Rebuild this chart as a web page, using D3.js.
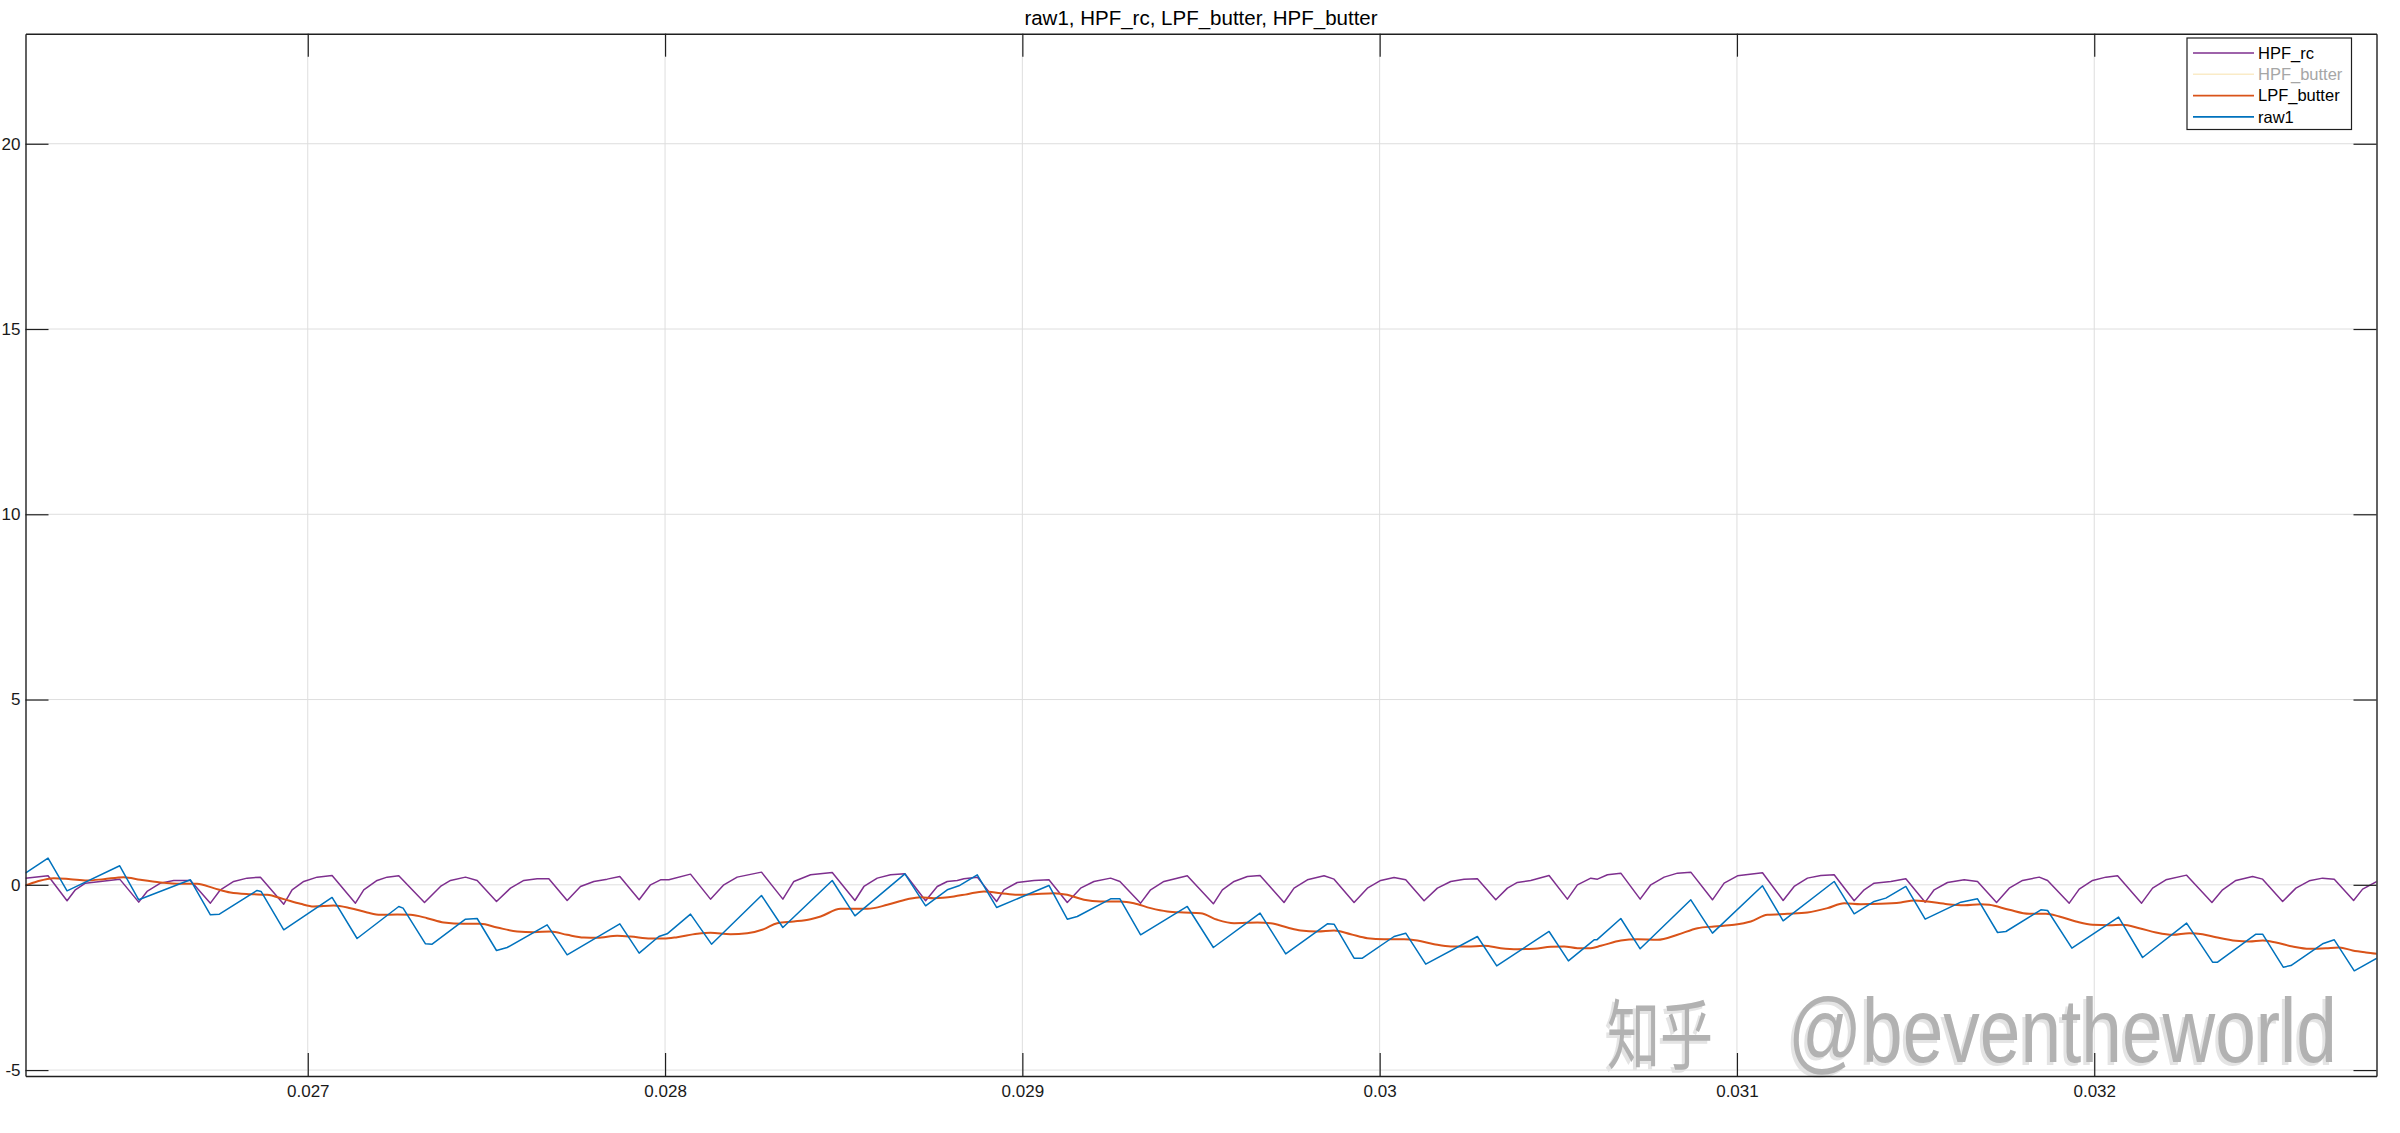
<!DOCTYPE html>
<html>
<head>
<meta charset="utf-8">
<script src="https://cdn.jsdelivr.net/npm/d3@7"></script>
<style>
  html, body { margin: 0; padding: 0; background: #ffffff; }
  svg { display: block; }
</style>
</head>
<body>
<script>
// ---------------- data ----------------
const chartTitle = "raw1, HPF_rc, LPF_butter, HPF_butter";
const xDomain = [0.02621, 0.03279];
const yDomain = [-5.16, 22.97];
const xTicks = [0.027, 0.028, 0.029, 0.030, 0.031, 0.032];
const xTickLabels = ["0.027", "0.028", "0.029", "0.03", "0.031", "0.032"];
const yTicks = [-5, 0, 5, 10, 15, 20];
const yTickLabels = ["-5", "0", "5", "10", "15", "20"];

const seriesNames = ["HPF_rc", "HPF_butter", "LPF_butter", "raw1"];
const seriesVisible = [true, false, true, true];

const rawTime = [0.0262097,0.0262731,0.0263263,0.0264737,0.0265269,0.0266715,0.0267275,0.0267527,0.0268581,0.0268693,0.0269328,0.0270681,0.0271380,0.0272547,0.0272668,0.0273295,0.0273481,0.0274414,0.0274741,0.0275282,0.0275581,0.0276700,0.0277260,0.0278734,0.0279275,0.0279826,0.0280059,0.0280712,0.0281300,0.0282699,0.0283297,0.0284679,0.0285314,0.0286713,0.0287292,0.0287898,0.0288225,0.0288738,0.0289279,0.0290744,0.0291257,0.0291537,0.0292470,0.0292731,0.0293310,0.0294616,0.0295346,0.0296653,0.0297371,0.0298537,0.0298724,0.0299284,0.0299517,0.0300403,0.0300730,0.0301290,0.0302736,0.0303277,0.0304742,0.0305283,0.0306003,0.0306078,0.0306750,0.0307291,0.0308709,0.0309315,0.0310715,0.0311293,0.0312721,0.0313281,0.0313840,0.0314167,0.0314727,0.0315268,0.0316266,0.0316733,0.0317294,0.0317528,0.0318507,0.0318694,0.0319375,0.0320681,0.0321353,0.0322585,0.0323312,0.0323452,0.0324525,0.0324712,0.0325290,0.0325505,0.0326391,0.0326718,0.0327278,0.0327912];
const rawValue = [0.315,0.72,-0.162,0.513,-0.405,0.135,-0.81,-0.792,-0.153,-0.18,-1.215,-0.342,-1.449,-0.585,-0.63,-1.593,-1.602,-0.927,-0.909,-1.773,-1.692,-1.08,-1.89,-1.053,-1.845,-1.395,-1.323,-0.792,-1.602,-0.288,-1.152,0.117,-0.837,0.297,-0.567,-0.135,-0.027,0.27,-0.612,-0.018,-0.927,-0.855,-0.378,-0.378,-1.35,-0.585,-1.692,-0.765,-1.863,-1.053,-1.062,-1.98,-1.98,-1.395,-1.305,-2.142,-1.395,-2.187,-1.26,-2.052,-1.485,-1.485,-0.909,-1.728,-0.405,-1.305,-0.027,-0.972,0.09,-0.783,-0.45,-0.36,-0.045,-0.927,-0.468,-0.378,-1.287,-1.26,-0.675,-0.693,-1.71,-0.873,-1.962,-1.035,-2.088,-2.088,-1.332,-1.332,-2.223,-2.178,-1.593,-1.485,-2.322,-1.98];

const hpfRcTime = [0.0262097,0.0262731,0.0263263,0.0263496,0.0263776,0.0264196,0.0264737,0.0265269,0.0265502,0.0265876,0.0266249,0.0266715,0.0267275,0.0267555,0.0267928,0.0268301,0.0268675,0.0269328,0.0269561,0.0269888,0.0270261,0.0270681,0.0271334,0.0271567,0.0271940,0.0272220,0.0272547,0.0273267,0.0273715,0.0273995,0.0274414,0.0274741,0.0275282,0.0275674,0.0276047,0.0276420,0.0276747,0.0277260,0.0277633,0.0278007,0.0278380,0.0278734,0.0279275,0.0279593,0.0279873,0.0280106,0.0280712,0.0281272,0.0281645,0.0282018,0.0282699,0.0283297,0.0283605,0.0284073,0.0284679,0.0285314,0.0285566,0.0285939,0.0286312,0.0286713,0.0287292,0.0287618,0.0287898,0.0288178,0.0288365,0.0288738,0.0289279,0.0289484,0.0289858,0.0290324,0.0290744,0.0291257,0.0291630,0.0292003,0.0292470,0.0292731,0.0293310,0.0293590,0.0293963,0.0294616,0.0295346,0.0295598,0.0295925,0.0296298,0.0296653,0.0297324,0.0297604,0.0297978,0.0298444,0.0298724,0.0299284,0.0299657,0.0300030,0.0300403,0.0300730,0.0301243,0.0301616,0.0301989,0.0302363,0.0302736,0.0303249,0.0303576,0.0303855,0.0304229,0.0304742,0.0305255,0.0305535,0.0305910,0.0306097,0.0306376,0.0306750,0.0307291,0.0307589,0.0307963,0.0308336,0.0308709,0.0309315,0.0309642,0.0310015,0.0310715,0.0311293,0.0311601,0.0311974,0.0312348,0.0312721,0.0313281,0.0313561,0.0313840,0.0314307,0.0314727,0.0315268,0.0315520,0.0315893,0.0316360,0.0316733,0.0317266,0.0317621,0.0317994,0.0318461,0.0318694,0.0319300,0.0319580,0.0319954,0.0320327,0.0320653,0.0321325,0.0321633,0.0322006,0.0322585,0.0323294,0.0323592,0.0323965,0.0324432,0.0324712,0.0325272,0.0325645,0.0326018,0.0326391,0.0326718,0.0327259,0.0327511,0.0327912];
const hpfRcValue = [0.18,0.243,-0.432,-0.135,0.045,0.09,0.153,-0.468,-0.18,0.045,0.117,0.117,-0.495,-0.135,0.09,0.18,0.207,-0.522,-0.135,0.09,0.207,0.252,-0.495,-0.135,0.117,0.207,0.243,-0.477,-0.045,0.117,0.207,0.117,-0.45,-0.09,0.117,0.162,0.162,-0.423,-0.045,0.09,0.153,0.225,-0.405,0,0.135,0.135,0.288,-0.387,0,0.207,0.342,-0.387,0.09,0.27,0.333,-0.423,-0.045,0.18,0.27,0.297,-0.432,-0.045,0.09,0.117,0.162,0.207,-0.45,-0.135,0.063,0.117,0.135,-0.477,-0.09,0.09,0.18,0.09,-0.495,-0.135,0.09,0.243,-0.513,-0.135,0.09,0.225,0.252,-0.477,-0.09,0.135,0.243,0.153,-0.477,-0.09,0.117,0.198,0.135,-0.432,-0.09,0.09,0.153,0.162,-0.405,-0.09,0.063,0.117,0.252,-0.387,0,0.18,0.153,0.27,0.315,-0.387,0,0.207,0.315,0.342,-0.405,0.045,0.243,0.324,-0.423,-0.045,0.18,0.252,0.27,-0.432,-0.135,0.045,0.09,0.162,-0.468,-0.135,0.063,0.135,0.09,-0.477,-0.09,0.117,0.207,0.117,-0.495,-0.117,0.117,0.207,0.243,-0.495,-0.09,0.135,0.261,-0.477,-0.135,0.117,0.225,0.153,-0.45,-0.09,0.108,0.18,0.153,-0.423,-0.117,0.09];

const lpfTime = [0.0262097,0.0262424,0.0262890,0.0263357,0.0263823,0.0264290,0.0264849,0.0265316,0.0265876,0.0266435,0.0266902,0.0267368,0.0267835,0.0268395,0.0268861,0.0269328,0.0269794,0.0270167,0.0270727,0.0271194,0.0271660,0.0272033,0.0272500,0.0272875,0.0273342,0.0273808,0.0274368,0.0274834,0.0275301,0.0275861,0.0276327,0.0276794,0.0277260,0.0277727,0.0278100,0.0278660,0.0279033,0.0279593,0.0279966,0.0280339,0.0280899,0.0281272,0.0281832,0.0282298,0.0282765,0.0283138,0.0283605,0.0284071,0.0284353,0.0284913,0.0285659,0.0286219,0.0286779,0.0287152,0.0287525,0.0288085,0.0288458,0.0288925,0.0289391,0.0289858,0.0290324,0.0290884,0.0291257,0.0291724,0.0292190,0.0292750,0.0293123,0.0293590,0.0294056,0.0294523,0.0294989,0.0295458,0.0295925,0.0296578,0.0296951,0.0297418,0.0297791,0.0298257,0.0298724,0.0299190,0.0299657,0.0300123,0.0300683,0.0301056,0.0301523,0.0301989,0.0302456,0.0302922,0.0303389,0.0303855,0.0304322,0.0304788,0.0305162,0.0305535,0.0305908,0.0306190,0.0306750,0.0307216,0.0307776,0.0308336,0.0308896,0.0309362,0.0309922,0.0310388,0.0310855,0.0311415,0.0311974,0.0312534,0.0313001,0.0313467,0.0314027,0.0314587,0.0314960,0.0315333,0.0315893,0.0316360,0.0316826,0.0317061,0.0317621,0.0318181,0.0318647,0.0319021,0.0319487,0.0319954,0.0320420,0.0320793,0.0321260,0.0321726,0.0322193,0.0322659,0.0323032,0.0323406,0.0323965,0.0324338,0.0324712,0.0325085,0.0325552,0.0326018,0.0326485,0.0326858,0.0327231,0.0327604,0.0327912];
const lpfValue = [-0.018,0.09,0.18,0.153,0.117,0.153,0.207,0.135,0.063,0.027,0.027,-0.09,-0.207,-0.252,-0.27,-0.387,-0.513,-0.585,-0.558,-0.63,-0.747,-0.81,-0.801,-0.81,-0.9,-1.017,-1.053,-1.053,-1.152,-1.26,-1.278,-1.26,-1.35,-1.422,-1.431,-1.377,-1.395,-1.449,-1.449,-1.413,-1.323,-1.296,-1.332,-1.305,-1.197,-1.035,-0.99,-0.927,-0.855,-0.648,-0.648,-0.54,-0.387,-0.333,-0.36,-0.315,-0.252,-0.18,-0.225,-0.27,-0.252,-0.225,-0.27,-0.405,-0.45,-0.45,-0.495,-0.63,-0.72,-0.747,-0.765,-0.945,-1.035,-1.017,-1.035,-1.152,-1.233,-1.26,-1.233,-1.332,-1.44,-1.467,-1.467,-1.503,-1.602,-1.665,-1.665,-1.647,-1.71,-1.737,-1.728,-1.674,-1.665,-1.71,-1.71,-1.647,-1.503,-1.467,-1.485,-1.35,-1.17,-1.125,-1.08,-0.99,-0.81,-0.783,-0.747,-0.63,-0.495,-0.522,-0.513,-0.477,-0.423,-0.45,-0.522,-0.549,-0.522,-0.54,-0.675,-0.783,-0.783,-0.855,-0.99,-1.08,-1.089,-1.08,-1.17,-1.287,-1.35,-1.305,-1.332,-1.413,-1.512,-1.53,-1.503,-1.557,-1.665,-1.728,-1.71,-1.692,-1.773,-1.827,-1.863];

// HPF_butter is hidden in the figure (greyed legend entry), no visible samples
const hpfButterTime = [];
const hpfButterValue = [];

const watermarkCJK = "知乎";
const watermarkLatin = "@beventheworld";

// ---------------- layout / styles ----------------
const W = 2400, H = 1133;
const plot = { left: 25.5, right: 2376.5, top: 33.7, bottom: 1076 };
const colors = { HPF_rc: "#7E2F8E", HPF_butter: "#EDB120", LPF_butter: "#D95319", raw1: "#0072BD" };
const widths = { HPF_rc: 1.5, HPF_butter: 1.5, LPF_butter: 2.0, raw1: 1.5 };
const FONT = "'Liberation Sans', Arial, Helvetica, sans-serif";

const svg = d3.select("body").append("svg")
  .attr("width", W).attr("height", H)
  .attr("viewBox", `0 0 ${W} ${H}`);

svg.append("rect").attr("width", W).attr("height", H).attr("fill", "#ffffff");

const x = d3.scaleLinear().domain(xDomain).range([plot.left, plot.right]);
const y = d3.scaleLinear().domain(yDomain).range([plot.bottom, plot.top]);

// grid
const grid = svg.append("g").attr("class", "grid");
grid.selectAll("line.vx").data(xTicks).join("line")
  .attr("x1", d => x(d)).attr("x2", d => x(d))
  .attr("y1", plot.top).attr("y2", plot.bottom)
  .attr("stroke", "#dedede").attr("stroke-width", 1);
grid.selectAll("line.hy").data(yTicks).join("line")
  .attr("x1", plot.left).attr("x2", plot.right)
  .attr("y1", d => y(d)).attr("y2", d => y(d))
  .attr("stroke", "#dedede").attr("stroke-width", 1);

// watermark (behind data), condensed horizontally to the reference's width
const wm = svg.append("g").attr("class", "watermark");
function condensedText(str, x0, baseline, targetWidth, family, size, fill) {
  const g = wm.append("g");
  const t = g.append("text")
    .attr("x", 0).attr("y", 0)
    .attr("font-family", family).attr("font-size", size)
    .attr("fill", fill).text(str);
  const natural = t.node().getComputedTextLength() || targetWidth;
  g.attr("transform", `translate(${x0},${baseline}) scale(${targetWidth / natural},1)`);
}
[[-3, 3, "#e4e4e4"], [0, 0, "#b2b2b2"]].forEach(([dx, dy, fill]) => {
  condensedText(watermarkCJK, 1607 + dx, 1063 + dy, 106, "'Noto Sans CJK SC', sans-serif", 76, fill);
  condensedText(watermarkLatin, 1788 + dx, 1062 + dy, 549, FONT, 90, fill);
});

// clip
svg.append("clipPath").attr("id", "plotclip").append("rect")
  .attr("x", plot.left).attr("y", plot.top)
  .attr("width", plot.right - plot.left).attr("height", plot.bottom - plot.top);

const seriesData = {
  HPF_rc: d3.zip(hpfRcTime, hpfRcValue),
  HPF_butter: d3.zip(hpfButterTime, hpfButterValue),
  LPF_butter: d3.zip(lpfTime, lpfValue),
  raw1: d3.zip(rawTime, rawValue)
};

const lineLinear = d3.line().x(d => x(d[0])).y(d => y(d[1]));
const lineSmooth = d3.line().x(d => x(d[0])).y(d => y(d[1])).curve(d3.curveMonotoneX);

const linesG = svg.append("g").attr("clip-path", "url(#plotclip)");
seriesNames.forEach((name, i) => {
  if (!seriesVisible[i]) return;
  linesG.append("path")
    .datum(seriesData[name])
    .attr("fill", "none")
    .attr("stroke", colors[name])
    .attr("stroke-width", widths[name])
    .attr("stroke-linejoin", "round")
    .attr("d", name === "LPF_butter" ? lineSmooth : lineLinear);
});

// axes (inward ticks on all 4 sides)
const TICK = 23;
const axisColor = "#1f1f1f";
function styleAxis(g) {
  g.select(".domain").attr("stroke", axisColor).attr("stroke-width", 1.4);
  g.selectAll(".tick line").attr("stroke", axisColor).attr("stroke-width", 1.2);
  g.selectAll(".tick text").attr("fill", "#1a1a1a")
    .attr("font-family", FONT).attr("font-size", 17);
}
const fmtX = (d) => xTickLabels[xTicks.indexOf(d)];
const fmtY = (d) => yTickLabels[yTicks.indexOf(d)];

svg.append("g").attr("transform", `translate(0,${plot.bottom})`)
  .call(d3.axisBottom(x).tickValues(xTicks).tickFormat(fmtX).tickSizeInner(-TICK).tickSizeOuter(0).tickPadding(9))
  .call(styleAxis);
svg.append("g").attr("transform", `translate(0,${plot.top})`)
  .call(d3.axisTop(x).tickValues(xTicks).tickFormat("").tickSizeInner(-TICK).tickSizeOuter(0))
  .call(styleAxis);
svg.append("g").attr("transform", `translate(${plot.left},0)`)
  .call(d3.axisLeft(y).tickValues(yTicks).tickFormat(fmtY).tickSizeInner(-TICK).tickSizeOuter(0).tickPadding(5))
  .call(styleAxis);
svg.append("g").attr("transform", `translate(${plot.right},0)`)
  .call(d3.axisRight(y).tickValues(yTicks).tickFormat("").tickSizeInner(-TICK).tickSizeOuter(0))
  .call(styleAxis);

// title
svg.append("text")
  .attr("x", (plot.left + plot.right) / 2).attr("y", 25)
  .attr("text-anchor", "middle")
  .attr("font-family", FONT).attr("font-size", 20.5)
  .attr("fill", "#000")
  .text(chartTitle);

// legend
const legend = { x: 2187, y: 38, w: 164.5, h: 91.5, rowY0: 53, rowStep: 21.3 };
const lg = svg.append("g");
lg.append("rect")
  .attr("x", legend.x).attr("y", legend.y)
  .attr("width", legend.w).attr("height", legend.h)
  .attr("fill", "#ffffff").attr("stroke", "#1f1f1f").attr("stroke-width", 1.2);
seriesNames.forEach((name, i) => {
  const yy = legend.rowY0 + i * legend.rowStep;
  lg.append("line")
    .attr("x1", legend.x + 6).attr("x2", legend.x + 67)
    .attr("y1", yy).attr("y2", yy)
    .attr("stroke", colors[name])
    .attr("stroke-width", 1.6)
    .attr("stroke-opacity", seriesVisible[i] ? 1 : 0.25);
  lg.append("text")
    .attr("x", legend.x + 71).attr("y", yy)
    .attr("dy", "0.35em")
    .attr("font-family", FONT).attr("font-size", 16.5)
    .attr("fill", seriesVisible[i] ? "#000" : "#a6a6a6")
    .text(name);
});
</script>
</body>
</html>
